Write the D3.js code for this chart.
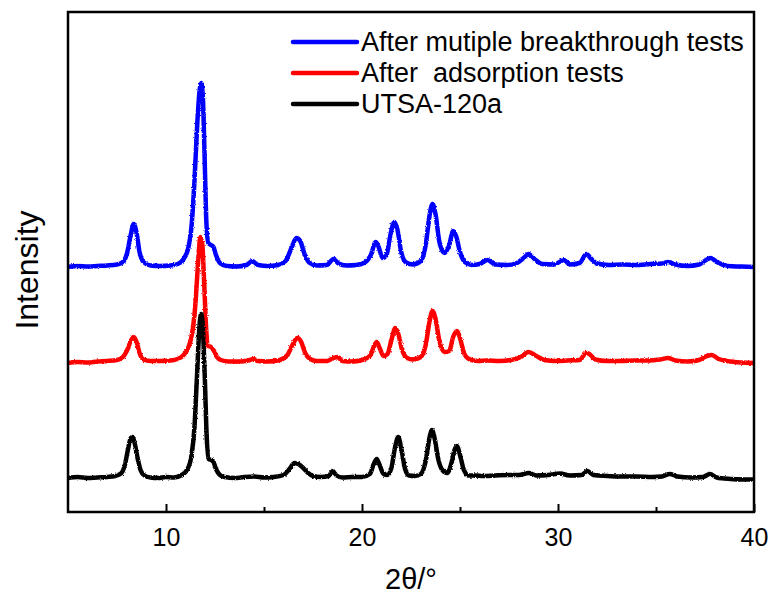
<!DOCTYPE html>
<html>
<head>
<meta charset="utf-8">
<script src="https://cdn.jsdelivr.net/npm/d3@7"></script>
<style>
  html, body { margin: 0; padding: 0; background: #fff; }
  svg { display: block; font-family: "Liberation Sans", Arial, sans-serif; }
</style>
</head>
<body>
<svg id="chart" width="774" height="594"></svg>
<script>
// XRD patterns: [2θ, relative intensity] pairs, each stacked on its own offset.
const seriesNames = ["After mutiple breakthrough tests", "After  adsorption tests", "UTSA-120a"];
const seriesColors = ["#0000ff", "#ff0000", "#000000"];
const seriesOffsets = [49, 29.6, 6.8];

const breakthroughPattern = [
  [5.0,0],[5.5,0.2],[6.0,0.1],[6.5,0.2],[7.0,0.3],[7.5,0.5],[7.8,1.0],[8.0,2.6],[8.2,6.4],[8.35,8.6],
  [8.5,6.8],[8.65,3.0],[8.85,1.0],[9.2,0.3],[9.7,0.2],[10.2,0.3],[10.6,0.6],[10.9,1.6],[11.15,4.0],[11.3,8],
  [11.45,17],[11.6,29],[11.72,35.5],[11.8,36.8],[11.88,34],[11.97,22],[12.06,9],[12.16,4.8],[12.3,4.4],[12.42,4.0],
  [12.55,2.4],[12.75,0.8],[13.1,0.2],[13.6,0.1],[14.1,0.4],[14.4,1.2],[14.7,0.4],[15.2,0.2],[15.7,0.4],[16.1,1.2],
  [16.4,3.8],[16.65,5.8],[16.85,5.2],[17.05,2.8],[17.3,0.9],[17.7,0.3],[18.2,0.4],[18.55,1.6],[18.8,0.7],[19.2,0.3],
  [19.7,0.4],[20.1,0.8],[20.45,2.4],[20.7,5.0],[20.85,4.0],[21.05,1.8],[21.25,2.4],[21.45,6.4],[21.65,9.0],[21.8,7.6],
  [22.0,3.0],[22.25,0.9],[22.6,0.5],[23.0,1.2],[23.25,4.4],[23.45,10.4],[23.6,12.6],[23.75,10.6],[23.95,5.0],[24.2,2.8],
  [24.45,4.4],[24.65,7.2],[24.8,6.2],[25.0,3.0],[25.25,1.0],[25.6,0.4],[26.0,0.6],[26.4,1.4],[26.8,0.5],[27.4,0.4],
  [27.9,0.8],[28.3,2.0],[28.5,2.6],[28.8,1.6],[29.2,0.6],[29.8,0.5],[30.3,1.4],[30.6,0.5],[31.1,0.8],[31.45,2.6],
  [31.7,1.6],[32.0,0.7],[32.6,0.4],[33.3,0.5],[34.0,0.4],[34.7,0.6],[35.3,0.7],[35.6,1.0],[36.0,0.5],[36.6,0.2],
  [37.2,0.5],[37.6,1.5],[37.8,1.8],[38.1,1.0],[38.7,0.2],[39.3,0.1],[40.0,0]
];

const adsorptionPattern = [
  [5.0,0.2],[5.5,0.4],[6.0,0.3],[6.5,0.5],[7.0,0.6],[7.5,0.8],[7.8,1.4],[8.0,2.6],[8.2,4.6],[8.35,5.4],
  [8.5,4.4],[8.65,2.2],[8.85,0.9],[9.2,0.6],[9.7,0.6],[10.2,0.7],[10.6,1.0],[10.9,1.8],[11.15,3.4],[11.35,6.5],
  [11.5,12],[11.65,21],[11.75,25.4],[11.85,24],[11.95,16],[12.05,7],[12.15,3.6],[12.3,3.4],[12.45,2.6],[12.6,1.4],
  [12.8,0.8],[13.2,0.5],[13.8,0.5],[14.2,0.7],[14.45,1.0],[14.7,0.6],[15.2,0.5],[15.8,0.8],[16.2,1.8],[16.45,3.8],
  [16.7,5.2],[16.9,4.4],[17.1,2.2],[17.35,1.0],[17.7,0.6],[18.2,0.6],[18.55,1.2],[18.75,1.4],[19.0,0.6],[19.5,0.5],
  [20.0,0.8],[20.4,1.6],[20.6,3.4],[20.75,4.4],[20.9,3.2],[21.1,1.6],[21.3,2.0],[21.5,4.8],[21.7,7.2],[21.85,6.0],
  [22.05,2.8],[22.3,1.2],[22.6,0.9],[23.0,1.4],[23.25,3.8],[23.45,8.6],[23.6,10.6],[23.75,9.0],[23.95,4.6],[24.2,2.4],
  [24.45,2.6],[24.65,5.4],[24.85,6.6],[25.0,5.2],[25.2,2.2],[25.45,1.0],[25.9,0.6],[26.4,0.7],[27.0,0.6],[27.6,0.8],
  [28.1,1.4],[28.5,2.4],[28.9,1.6],[29.3,0.8],[29.9,0.6],[30.5,0.7],[31.1,0.8],[31.45,2.2],[31.6,2.0],[31.9,0.9],
  [32.5,0.6],[33.2,0.6],[33.9,0.7],[34.6,0.7],[35.2,0.9],[35.6,1.2],[36.0,0.7],[36.6,0.5],[37.2,0.8],[37.6,1.6],
  [37.85,1.8],[38.2,1.0],[38.8,0.5],[39.4,0.3],[40.0,0.2]
];

const pristinePattern = [
  [5.0,0],[5.5,0.2],[6.0,0],[6.5,0.1],[7.0,0.2],[7.4,0.4],[7.7,0.9],[7.9,2.6],[8.05,5.5],[8.2,8.0],
  [8.3,8.2],[8.4,7.0],[8.55,4.0],[8.7,1.6],[8.9,0.5],[9.2,0.1],[9.6,0],[10.0,0.2],[10.4,0.1],[10.8,0.6],
  [11.1,1.8],[11.3,4.5],[11.45,10],[11.6,22],[11.72,31],[11.8,32.8],[11.88,30],[11.98,20],[12.08,8],[12.18,3.8],
  [12.3,3.6],[12.4,3.4],[12.55,1.8],[12.75,0.6],[13.0,0.2],[13.5,0],[14.0,0.2],[14.5,0.3],[15.0,0.1],[15.5,0.2],
  [16.0,0.6],[16.3,1.8],[16.55,3.0],[16.75,2.8],[17.0,2.0],[17.25,1.0],[17.5,0.4],[17.9,0.2],[18.3,0.4],[18.5,1.4],
  [18.7,0.5],[19.0,0.1],[19.5,0.2],[20.0,0.2],[20.4,0.8],[20.6,2.8],[20.75,3.8],[20.9,2.6],[21.1,0.8],[21.3,0.6],
  [21.5,2.0],[21.7,6.4],[21.85,8.2],[22.0,6.0],[22.2,1.8],[22.4,0.5],[22.7,0.4],[23.0,0.8],[23.25,3.4],[23.45,8.2],
  [23.57,9.6],[23.7,8.0],[23.9,3.6],[24.1,1.6],[24.35,1.0],[24.55,2.8],[24.72,5.6],[24.85,6.4],[25.0,4.6],[25.2,1.6],
  [25.45,0.5],[25.8,0.5],[26.2,0.4],[26.8,0.5],[27.5,0.6],[28.0,0.6],[28.5,1.0],[28.9,0.5],[29.5,0.6],[30.1,0.9],
  [30.6,0.5],[31.2,0.6],[31.5,1.4],[31.8,0.6],[32.5,0.4],[33.2,0.3],[34.0,0.3],[34.8,0.2],[35.3,0.3],[35.7,0.8],
  [36.1,0.3],[36.8,0.1],[37.4,0.2],[37.75,0.8],[38.1,0.1],[38.8,-0.2],[39.5,-0.3],[40.0,-0.3]
];

const patterns = [breakthroughPattern, adsorptionPattern, pristinePattern];
const majorTicks = [10, 20, 30, 40];
const minorTicks = [15, 25, 35];
const xTitle = "2θ/°";
const yTitle = "Intensity";

const svg = d3.select("#chart");
const plot = { left: 68, right: 754, top: 12, bottom: 512 };

const x = d3.scaleLinear().domain([5, 40]).range([plot.left, plot.right]);
const y = d3.scaleLinear().domain([0, 100]).range([plot.bottom, plot.top]);

const defs = svg.append("defs");
defs.append("clipPath").attr("id", "plot-clip")
  .append("rect")
  .attr("x", plot.left).attr("y", plot.top)
  .attr("width", plot.right - plot.left).attr("height", plot.bottom - plot.top);

// slight detector-noise roughness on the traces
const rough = defs.append("filter").attr("id", "rough")
  .attr("x", "-2%").attr("y", "-5%").attr("width", "104%").attr("height", "110%");
rough.append("feTurbulence").attr("type", "fractalNoise").attr("baseFrequency", "0.9 0.6")
  .attr("numOctaves", 2).attr("seed", 3).attr("result", "noise");
rough.append("feDisplacementMap").attr("in", "SourceGraphic").attr("in2", "noise")
  .attr("scale", 2.5).attr("xChannelSelector", "R").attr("yChannelSelector", "G");

// diffraction traces (pristine sample drawn last, on top)
const traces = svg.append("g").attr("clip-path", "url(#plot-clip)");
const line = d3.line().curve(d3.curveMonotoneX);
patterns.forEach((pts, i) => {
  line.x(d => x(d[0])).y(d => y(d[1] + seriesOffsets[i]));
  traces.append("path")
    .attr("d", line(pts))
    .attr("fill", "none")
    .attr("stroke", seriesColors[i])
    .attr("stroke-width", 4.5)
    .attr("stroke-linejoin", "round")
    .attr("stroke-linecap", "round")
    .attr("filter", "url(#rough)");
});

// bottom axis with inward ticks
const axisG = svg.append("g").attr("transform", `translate(0,${plot.bottom})`);
axisG.call(d3.axisBottom(x).tickValues(majorTicks).tickSize(-8).tickPadding(16).tickFormat(d3.format("d")));
axisG.select(".domain").remove();
axisG.selectAll(".tick line").attr("stroke", "#000").attr("stroke-width", 2);
axisG.selectAll(".tick text")
  .attr("fill", "#000")
  .attr("font-size", 25)
  .attr("font-family", "'Liberation Sans', Arial, sans-serif");

const minorG = svg.append("g").attr("transform", `translate(0,${plot.bottom})`);
minorG.call(d3.axisBottom(x).tickValues(minorTicks).tickSize(-5).tickFormat(""));
minorG.select(".domain").remove();
minorG.selectAll(".tick line").attr("stroke", "#000").attr("stroke-width", 2);

// frame
svg.append("rect")
  .attr("x", plot.left).attr("y", plot.top)
  .attr("width", plot.right - plot.left).attr("height", plot.bottom - plot.top)
  .attr("fill", "none").attr("stroke", "#000").attr("stroke-width", 2.5);

// axis titles
svg.append("text")
  .attr("x", 411)
  .attr("y", 589)
  .attr("text-anchor", "middle")
  .attr("font-size", 29)
  .attr("fill", "#000")
  .text(xTitle);

svg.append("text")
  .attr("transform", `translate(38,${(plot.top + plot.bottom) / 2 + 8}) rotate(-90)`)
  .attr("text-anchor", "middle")
  .attr("font-size", 32)
  .attr("fill", "#000")
  .text(yTitle);

// legend
const legend = svg.append("g");
const legendRows = [42, 73, 104];
seriesNames.forEach((name, i) => {
  legend.append("line")
    .attr("x1", 293).attr("x2", 357)
    .attr("y1", legendRows[i]).attr("y2", legendRows[i])
    .attr("stroke", seriesColors[i]).attr("stroke-width", 4.5).attr("stroke-linecap", "round");
  legend.append("text")
    .attr("x", 361).attr("y", legendRows[i] + 9)
    .attr("font-size", 27)
    .attr("fill", "#000")
    .style("white-space", "pre")
    .text(name);
});
</script>
</body>
</html>
